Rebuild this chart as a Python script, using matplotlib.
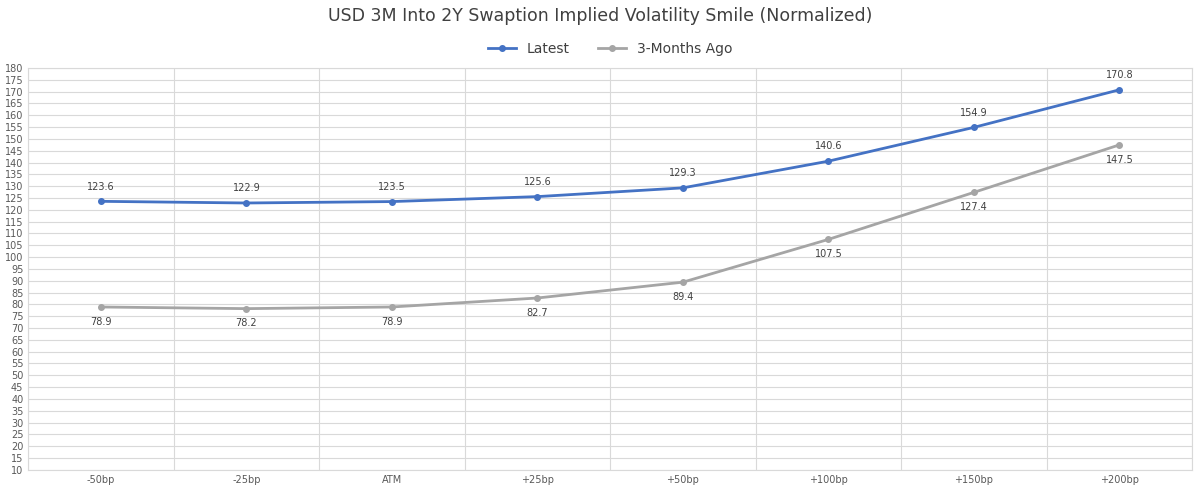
import matplotlib.pyplot as plt
import numpy as np

categories = ["-50bp", "-25bp", "ATM", "+25bp", "+50bp", "+100bp", "+150bp", "+200bp"]
latest = [123.6, 122.9, 123.5, 125.6, 129.3, 140.6, 154.9, 170.8]
ago = [78.9, 78.2, 78.9, 82.7, 89.4, 107.5, 127.4, 147.5]

plt.rcParams['font.family'] = ['DejaVu Sans']
fig = plt.figure(figsize=(12, 4.93), dpi=100)
ax = fig.add_axes([0.0235, 0.047, 0.97, 0.815])

x = np.arange(len(categories))
blue = '#4472C4'
grey = '#A5A5A5'
ax.plot(x, latest, color=blue, lw=2, marker='o', ms=4, label='Latest')
ax.plot(x, ago, color=grey, lw=2, marker='o', ms=4, label='3-Months Ago')
for xi, v in zip(x, latest):
    ax.annotate(f"{v:.1f}", (xi, v), xytext=(0, 7), textcoords='offset points',
                ha='center', va='bottom', fontsize=7, color='#404040')
for xi, v in zip(x, ago):
    ax.annotate(f"{v:.1f}", (xi, v), xytext=(0, -7), textcoords='offset points',
                ha='center', va='top', fontsize=7, color='#404040')

ax.set_xlim(-0.5, len(categories) - 0.5)
ax.set_ylim(10, 180)
ax.set_yticks(np.arange(10, 181, 5))
ax.set_xticks(x)
ax.set_xticklabels(categories)
ax.set_xticks(np.arange(-0.5, len(categories)), minor=True)
ax.tick_params(axis='both', labelsize=7, colors='#595959', length=0, which='both')
ax.grid(axis='y', color='#D9D9D9', lw=0.8)
ax.grid(axis='x', which='minor', color='#D9D9D9', lw=0.8)
ax.set_axisbelow(True)
for s in ax.spines.values():
    s.set_color('#D9D9D9')

fig.suptitle("USD 3M Into 2Y Swaption Implied Volatility Smile (Normalized)",
             y=0.985, fontsize=12.5, color='#404040')
ax.legend(loc='lower center', bbox_to_anchor=(0.5, 1.0), ncol=2, frameon=False,
          fontsize=10, labelcolor='#404040', handlelength=2)

fig.savefig('out.png')
